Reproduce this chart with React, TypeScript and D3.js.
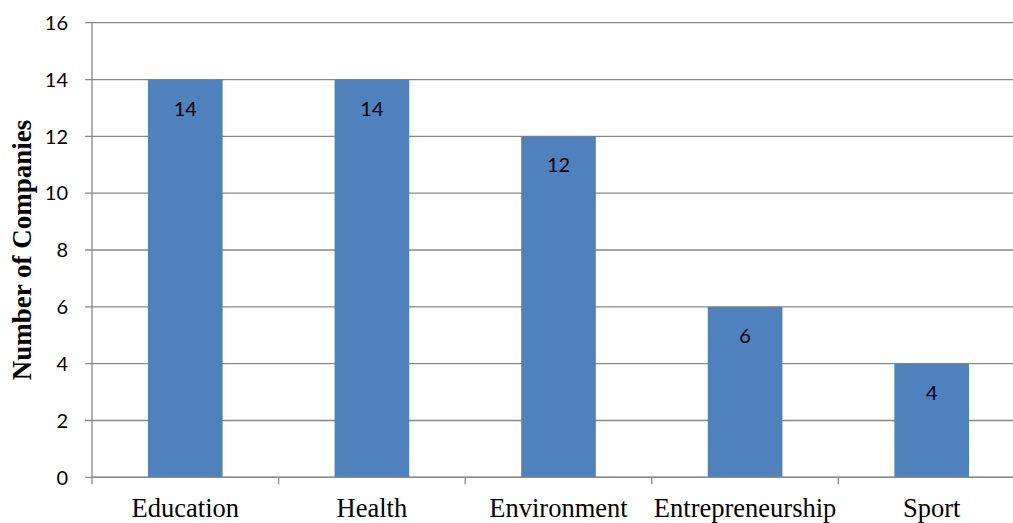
import React from "react";
import * as d3 from "d3";

const categories = ["Education", "Health", "Environment", "Entrepreneurship", "Sport"];
const values = [14, 14, 12, 6, 4];
const yTicks = [0, 2, 4, 6, 8, 10, 12, 14, 16];

export default function App() {
  const W = 1013, H = 523;
  const left = 92, top = 22.7, bottom = 477.3;
  const bandW = 186.6;
  const x = d3.scaleBand<string>().domain(categories).range([left, left + bandW * categories.length]).paddingInner(0.6).paddingOuter(0.3);
  const xb = d3.scaleBand<string>().domain(categories).range([left, left + bandW * categories.length]);
  const y = d3.scaleLinear().domain([0, 16]).range([bottom, top]);
  const grid = "#888888";
  return (
    <svg width={W} height={H} style={{ position: "absolute", left: 0, top: 0, background: "#fff" }}>
      {yTicks.map((t) => (
        <g key={t}>
          <line x1={left - 7} x2={W} y1={y(t)} y2={y(t)} stroke={grid} strokeWidth={1.3} />
          <text x={68} y={y(t)} dy="0.36em" textAnchor="end" fontFamily="Lato, 'Open Sans', sans-serif" fontSize={20} fill="#000">{t}</text>
        </g>
      ))}
      {values.map((v, i) => (
        <g key={categories[i]}>
          <rect x={x(categories[i])} y={y(v)} width={x.bandwidth()} height={bottom - y(v)} fill="#4F81BD" />
          <text x={(x(categories[i]) as number) + x.bandwidth() / 2} y={y(v) + 36} textAnchor="middle" fontFamily="Lato, 'Open Sans', sans-serif" fontSize={20} fill="#000">{v}</text>
        </g>
      ))}
      <line x1={left} x2={left} y1={top} y2={bottom + 7} stroke={grid} strokeWidth={1.3} />
      <line x1={left} x2={W} y1={bottom} y2={bottom} stroke={grid} strokeWidth={1.5} />
      {categories.map((c) => (
        <line key={"t" + c} x1={(xb(c) as number) + bandW} x2={(xb(c) as number) + bandW} y1={bottom} y2={bottom + 7} stroke={grid} strokeWidth={1.3} />
      ))}
      {categories.map((c) => (
        <text key={"l" + c} x={(xb(c) as number) + bandW / 2} y={517} textAnchor="middle" fontFamily="'Liberation Serif', 'Times New Roman', serif" fontSize={26.5} fill="#000">{c}</text>
      ))}
      <text transform={`translate(31, ${(top + bottom) / 2}) rotate(-90)`} textAnchor="middle" fontFamily="'Liberation Serif', 'Times New Roman', serif" fontWeight="bold" fontSize={27} fill="#000">Number of Companies</text>
    </svg>
  );
}
